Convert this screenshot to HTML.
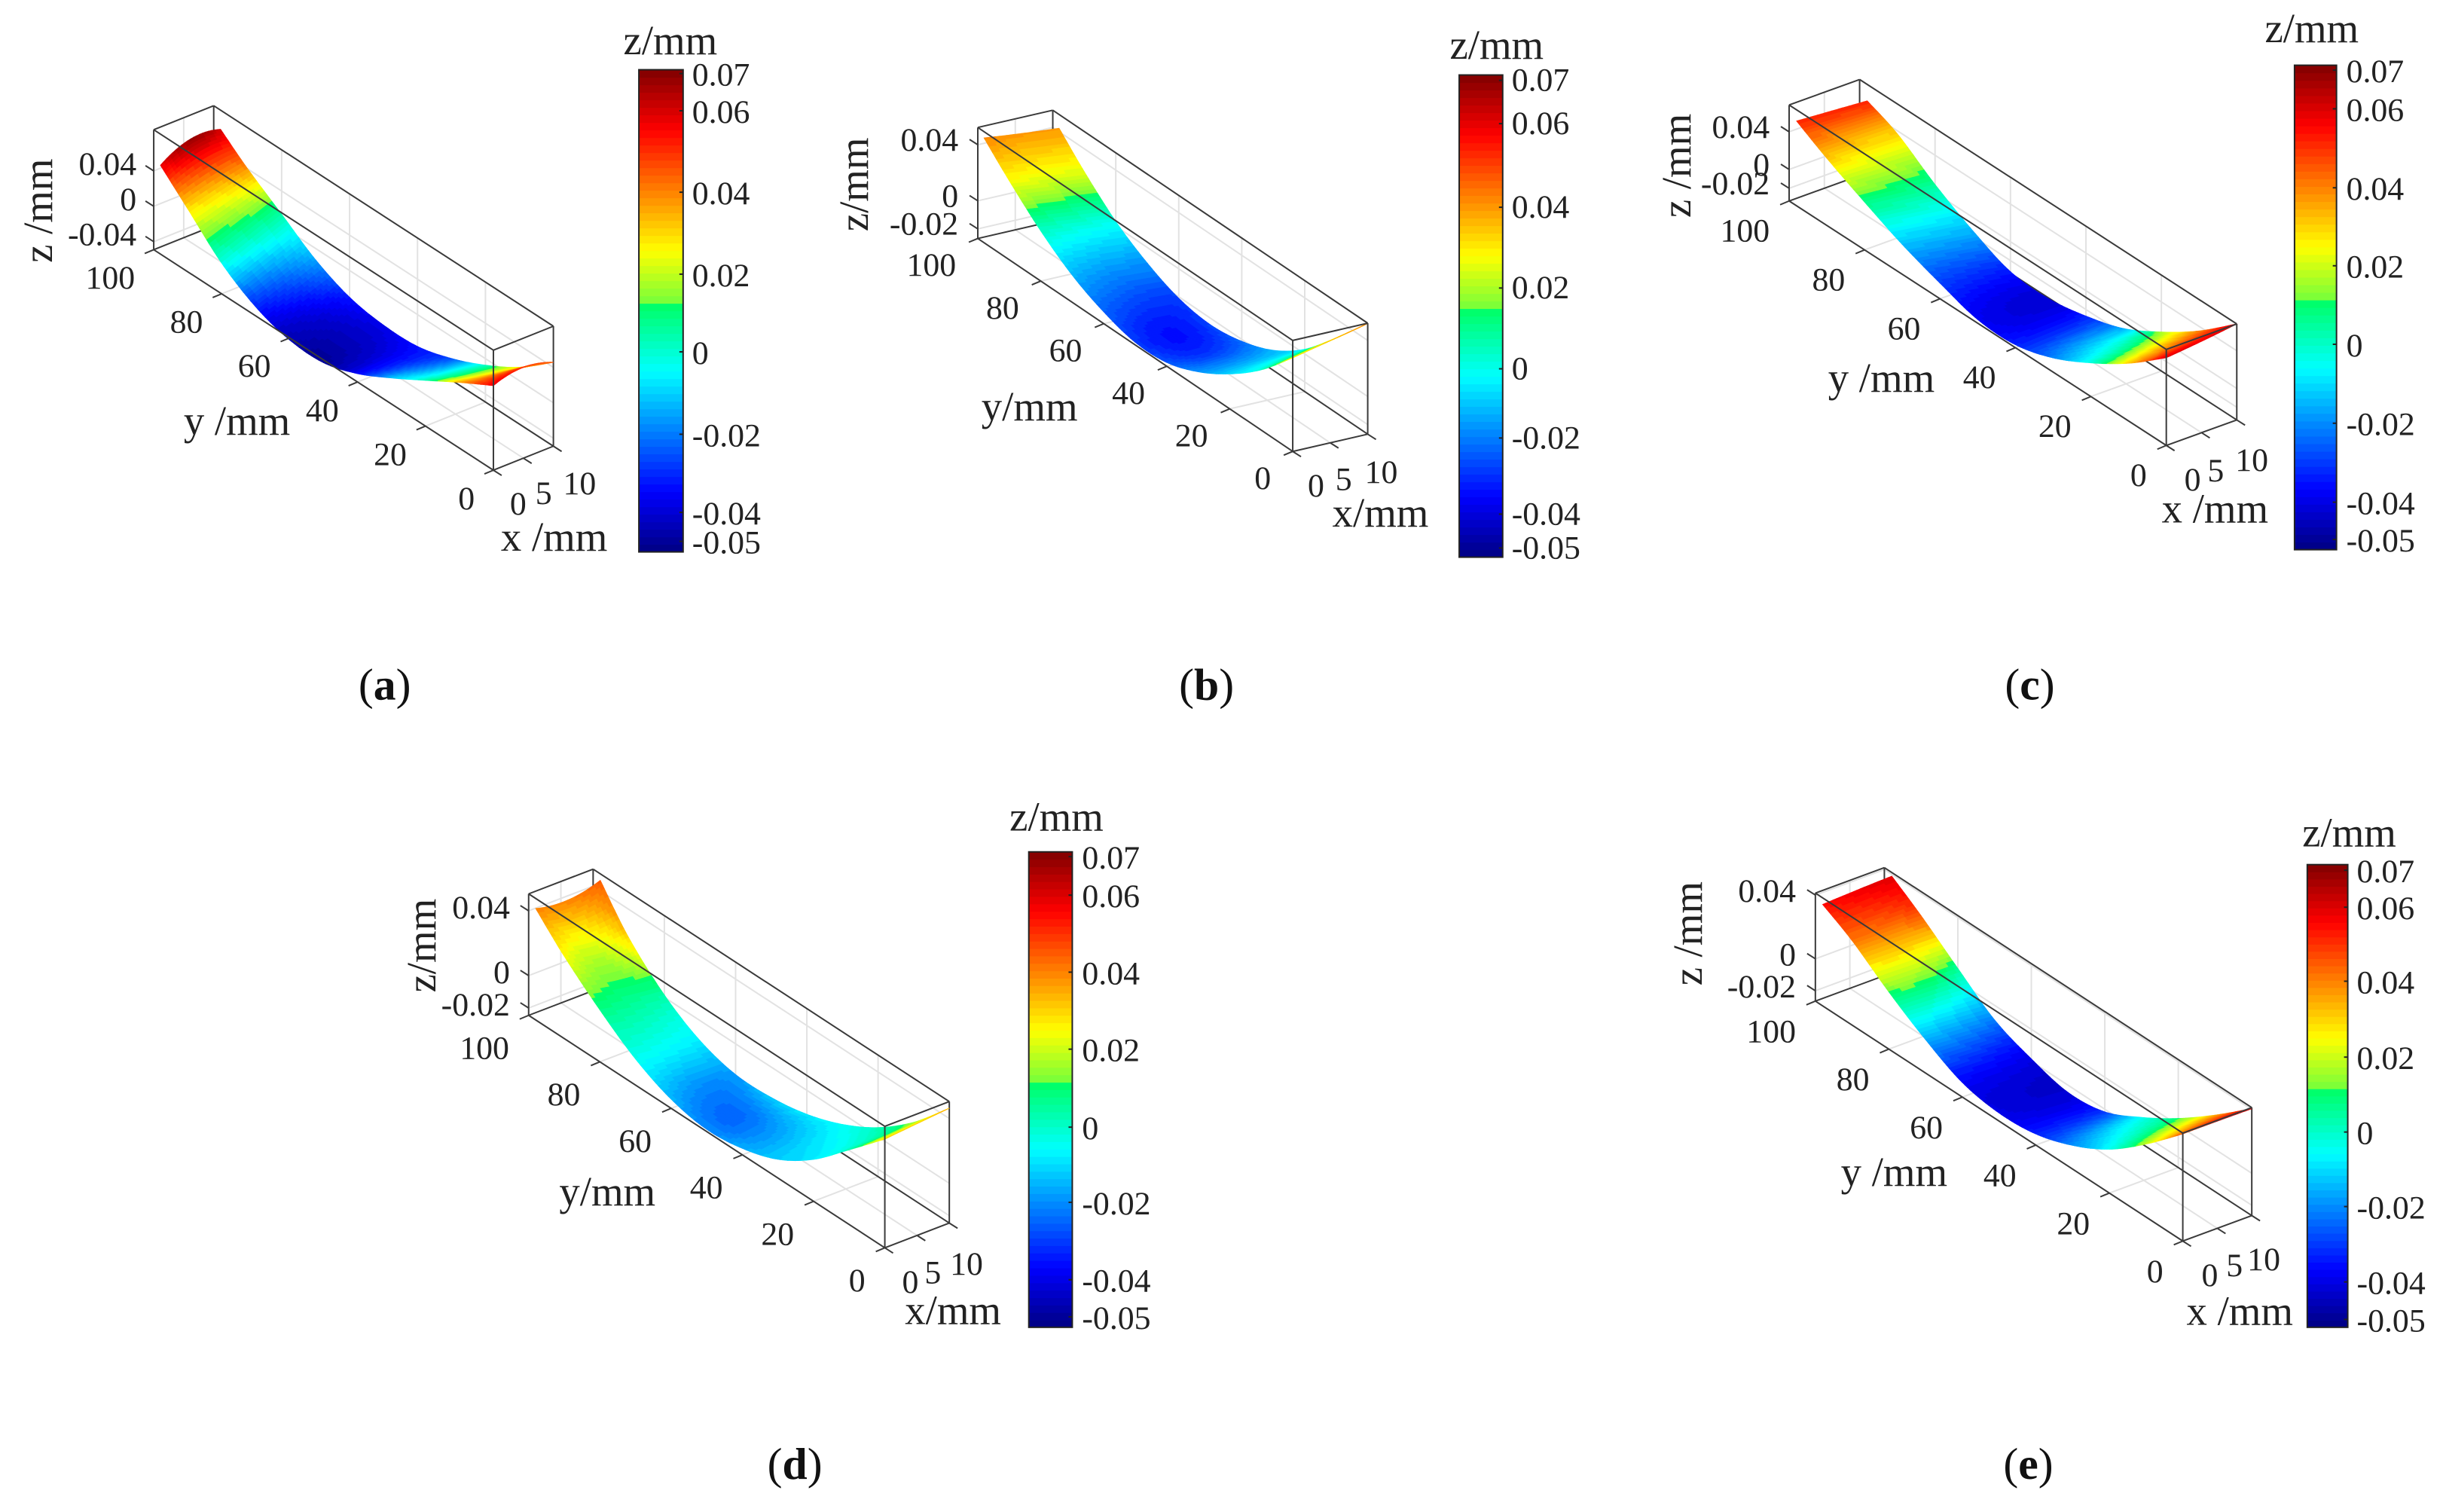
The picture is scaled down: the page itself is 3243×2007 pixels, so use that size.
<!DOCTYPE html>
<html lang="en">
<head>
<meta charset="utf-8">
<title>Surface deformation maps (a)–(e)</title>
<style>
html,body{margin:0;padding:0;background:#fff;}
svg{display:block;}
text{font-family:"Liberation Serif",serif;fill:#222;}
.tick-label{font-size:44px;}
.axis-title{font-size:55px;text-anchor:middle;}
.panel-label{font-size:60px;text-anchor:middle;fill:#111;}
.panel-label tspan{font-weight:bold;}
</style>
</head>
<body>
<svg id="figure" xmlns="http://www.w3.org/2000/svg" width="3243" height="2007" viewBox="0 0 3258 2016.3">
  <rect width="3258" height="2017" fill="#fff"/>

  <g id="panel-a"></g>
  <g id="panel-b"></g>
  <g id="panel-c"></g>
  <g id="panel-d"></g>
  <g id="panel-e"></g>

  <text class="axis-title" transform="translate(53,281) rotate(-90)" dy=".3em">z /mm</text>
  <text class="axis-title" x="316" y="563" dy=".3em">y /mm</text>
  <text class="axis-title" x="739" y="718" dy=".3em">x /mm</text>
  <text class="axis-title" x="894" y="56" dy=".3em">z/mm</text>
  <text class="panel-label" x="513" y="915" dy=".3em">(<tspan>a</tspan>)</text>

  <text class="axis-title" transform="translate(1141,246) rotate(-90)" dy=".3em">z/mm</text>
  <text class="axis-title" x="1373" y="544" dy=".3em">y/mm</text>
  <text class="axis-title" x="1841" y="686" dy=".3em">x/mm</text>
  <text class="axis-title" x="1996" y="62" dy=".3em">z/mm</text>
  <text class="panel-label" x="1609" y="915" dy=".3em">(<tspan>b</tspan>)</text>

  <text class="axis-title" transform="translate(2238,221) rotate(-90)" dy=".3em">z /mm</text>
  <text class="axis-title" x="2509" y="506" dy=".3em">y /mm</text>
  <text class="axis-title" x="2954" y="680" dy=".3em">x /mm</text>
  <text class="axis-title" x="3083" y="40" dy=".3em">z/mm</text>
  <text class="panel-label" x="2707" y="915" dy=".3em">(<tspan>c</tspan>)</text>

  <text class="axis-title" transform="translate(564,1261) rotate(-90)" dy=".3em">z/mm</text>
  <text class="axis-title" x="810" y="1591" dy=".3em">y/mm</text>
  <text class="axis-title" x="1271" y="1749" dy=".3em">x/mm</text>
  <text class="axis-title" x="1409" y="1091" dy=".3em">z/mm</text>
  <text class="panel-label" x="1060" y="1954" dy=".3em">(<tspan>d</tspan>)</text>

  <text class="axis-title" transform="translate(2253,1245) rotate(-90)" dy=".3em">z /mm</text>
  <text class="axis-title" x="2526" y="1565" dy=".3em">y /mm</text>
  <text class="axis-title" x="2987" y="1750" dy=".3em">x /mm</text>
  <text class="axis-title" x="3133" y="1112" dy=".3em">z/mm</text>
  <text class="panel-label" x="2705" y="1954" dy=".3em">(<tspan>e</tspan>)</text>
</svg>

<script>
// ---------- shared axis data ----------
const surfaceStationsY = [98, 90, 80, 70, 60, 50, 40, 30, 20, 10, 0];
const xTickValues = [0, 5, 10];
const xTickLabels = ['0', '5', '10'];
const yTickValues = [0, 20, 40, 60, 80, 100];
const yTickLabels = ['0', '20', '40', '60', '80', '100'];
const colorbarTickValues = [0.07, 0.06, 0.04, 0.02, 0, -0.02, -0.04, -0.05];
const colorbarTickLabels = ['0.07', '0.06', '0.04', '0.02', '0', '-0.02', '-0.04', '-0.05'];
const zTickValuesA = [0.04, 0, -0.04];
const zTickLabelsA = ['0.04', '0', '-0.04'];
const zTickValuesRest = [0.04, 0, -0.02];
const zTickLabelsRest = ['0.04', '0', '-0.02'];

// ---------- panel (a): surface height at x = 0, 5, 10 and displayed colour value ----------
const heightNearA = [0.0513, 0.0222, -0.0143, -0.0387, -0.0513, -0.0522, -0.0396, -0.0196, 0.0026, 0.0252, 0.0465];
const heightMidA = [0.0674, 0.0317, -0.0004, -0.0261, -0.0413, -0.0448, -0.0378, -0.0222, -0.0022, 0.0204, 0.0535];
const heightFarA = [0.0648, 0.0400, 0.0135, -0.0130, -0.0304, -0.0370, -0.0361, -0.0248, -0.0074, 0.0152, 0.0457];
const colourNearA = [0.058, 0.030, -0.002, -0.030, -0.045, -0.050, -0.035, -0.012, 0.003, 0.035, 0.057];
const colourMidA = [0.068, 0.033, 0.002, -0.024, -0.040, -0.044, -0.036, -0.020, 0.000, 0.030, 0.050];
const colourFarA = [0.060, 0.038, 0.005, -0.015, -0.032, -0.037, -0.033, -0.025, 0.002, 0.028, 0.045];

// ---------- panel (b) ----------
const heightNearB = [0.0479, 0.0296, 0.0090, -0.0074, -0.0184, -0.0249, -0.0241, -0.0156, -0.0019, 0.0162, 0.0400];
const heightMidB = [0.0449, 0.0266, 0.0060, -0.0093, -0.0197, -0.0247, -0.0227, -0.0140, 0.0005, 0.0214, 0.0460];
const heightFarB = [0.0425, 0.0236, 0.0033, -0.0112, -0.0211, -0.0247, -0.0214, -0.0126, 0.0033, 0.0266, 0.0521];
const colourNearB = [0.042, 0.028, 0.005, -0.012, -0.023, -0.028, -0.025, -0.017, -0.008, 0.003, 0.030];
const colourMidB = [0.040, 0.026, 0.002, -0.016, -0.028, -0.034, -0.030, -0.018, -0.005, 0.012, 0.035];
const colourFarB = [0.040, 0.025, 0.000, -0.017, -0.028, -0.027, -0.022, -0.012, -0.002, 0.030, 0.042];

// ---------- panel (c) ----------
const heightNearC = [0.0567, 0.0380, 0.0175, -0.0016, -0.0167, -0.0295, -0.0303, -0.0183, 0.0024, 0.0279, 0.0598];
const heightMidC = [0.0539, 0.0376, 0.0131, -0.0080, -0.0243, -0.0319, -0.0287, -0.0163, 0.0052, 0.0315, 0.0637];
const heightFarC = [0.0510, 0.0367, 0.0088, -0.0143, -0.0319, -0.0343, -0.0271, -0.0143, 0.0080, 0.0351, 0.0686];
const colourNearC = [0.052, 0.032, 0.008, -0.013, -0.029, -0.038, -0.033, -0.021, -0.002, 0.030, 0.060];
const colourMidC = [0.052, 0.030, 0.007, -0.014, -0.032, -0.041, -0.034, -0.015, 0.005, 0.035, 0.058];
const colourFarC = [0.052, 0.030, 0.005, -0.015, -0.034, -0.042, -0.033, -0.015, 0.015, 0.040, 0.060];

// ---------- panel (d) ----------
const heightNearD = [0.0443, 0.0264, 0.0076, -0.0083, -0.0188, -0.0231, -0.0205, -0.0129, 0.0014, 0.0217, 0.0426];
const heightMidD = [0.0419, 0.0224, 0.0040, -0.0105, -0.0190, -0.0210, -0.0176, -0.0098, 0.0036, 0.0224, 0.0445];
const heightFarD = [0.0464, 0.0224, 0.0014, -0.0124, -0.0190, -0.0188, -0.0148, -0.0067, 0.0057, 0.0233, 0.0464];
const colourNearD = [0.040, 0.025, 0.008, -0.004, -0.015, -0.020, -0.016, -0.012, -0.008, 0.003, 0.030];
const colourMidD = [0.040, 0.020, 0.006, -0.006, -0.020, -0.024, -0.018, -0.010, -0.004, 0.006, 0.030];
const colourFarD = [0.045, 0.030, 0.004, -0.008, -0.018, -0.012, -0.008, -0.005, 0.002, 0.015, 0.035];

// ---------- panel (e) ----------
const heightNearE = [0.0371, 0.0265, 0.0094, -0.0055, -0.0173, -0.0214, -0.0195, -0.0116, 0.0010, 0.0193, 0.0407];
const heightMidE = [0.0381, 0.0263, 0.0087, -0.0072, -0.0178, -0.0229, -0.0205, -0.0106, 0.0027, 0.0205, 0.0407];
const heightFarE = [0.0388, 0.0260, 0.0080, -0.0092, -0.0186, -0.0246, -0.0217, -0.0101, 0.0043, 0.0214, 0.0405];
const colourNearE = [0.055, 0.042, 0.012, -0.015, -0.037, -0.040, -0.033, -0.020, -0.005, 0.018, 0.045];
const colourMidE = [0.058, 0.042, 0.012, -0.018, -0.038, -0.042, -0.032, -0.012, 0.005, 0.030, 0.055];
const colourFarE = [0.060, 0.045, 0.006, -0.022, -0.040, -0.042, -0.030, -0.005, 0.010, 0.035, 0.060];

// ---------- colourbar axis calibration: reference values for the per-panel scale ----------
const barCalibrationValues = [0.07, 0.06, 0.04, 0.02, 0, -0.02, -0.04, -0.05];

// ---------- panel layout: projected box geometry and label placement ----------
const panels = [
  {id:'a', o:[658,627], ex:[80,-32], ey:[-453,-294], ez:-160, zLow:-0.0491, zHigh:0.0865,
   zTicks:zTickValuesA, zLabels:zTickLabelsA,
   near:heightNearA, mid:heightMidA, far:heightFarA, cNear:colourNearA, cMid:colourMidA, cFar:colourFarA,
   bar:{l:852, r:911, t:93, b:736, labelX:923, labelDy:1, cal:[0.008,0.085,0.254,0.424,0.585,0.756,0.918,0.978]},
   yLabelOff:[-25,37], zLabelOff:[-23,-10], xLabelOff:[[33,44],[27,46],[35,49]]},
  {id:'b', o:[1724,602], ex:[100,-23], ey:[-420,-284], ez:-148, zLow:-0.02685, zHigh:0.05233,
   zTicks:zTickValuesRest, zLabels:zTickLabelsRest,
   near:heightNearB, mid:heightMidB, far:heightFarB, cNear:colourNearB, cMid:colourMidB, cFar:colourFarB,
   bar:{l:1946, r:2004, t:100, b:743, labelX:2016, labelDy:-1, cal:[0.011,0.101,0.2743,0.4418,0.6093,0.7528,0.9107,0.981]},
   yLabelOff:[-29,35], zLabelOff:[-26,-7], xLabelOff:[[31,45],[18,48],[18,50]]},
  {id:'c', o:[2889,594], ex:[94,-34], ey:[-503,-326], ez:-128, zLow:-0.03347, zHigh:0.06857,
   zTicks:zTickValuesRest, zLabels:zTickLabelsRest,
   near:heightNearC, mid:heightMidC, far:heightFarC, cNear:colourNearC, cMid:colourMidC, cFar:colourFarC,
   bar:{l:3060, r:3116, t:87, b:733, labelX:3129, labelDy:1, cal:[0.01,0.09,0.253,0.414,0.576,0.739,0.902,0.979]},
   yLabelOff:[-26,39], zLabelOff:[-26,-7], xLabelOff:[[35,45],[19,50],[20,53]]},
  {id:'d', o:[1180,1664], ex:[86,-33], ey:[-475,-310], ez:-162, zLow:-0.02452, zHigh:0.05048,
   zTicks:zTickValuesRest, zLabels:zTickLabelsRest,
   near:heightNearD, mid:heightMidD, far:heightFarD, cNear:colourNearD, cMid:colourMidD, cFar:colourFarD,
   bar:{l:1372, r:1430, t:1136, b:1770, labelX:1443, labelDy:1, cal:[0.01,0.091,0.253,0.415,0.579,0.737,0.9,0.978]},
   yLabelOff:[-26,43], zLabelOff:[-25,-5], xLabelOff:[[34,45],[21,49],[23,54]]},
  {id:'e', o:[2911,1655], ex:[92,-34], ey:[-490,-320], ez:-144, zLow:-0.02651, zHigh:0.0412,
   zTicks:zTickValuesRest, zLabels:zTickLabelsRest,
   near:heightNearE, mid:heightMidE, far:heightFarE, cNear:colourNearE, cMid:colourMidE, cFar:colourFarE,
   bar:{l:3077, r:3131, t:1153, b:1770, labelX:3143, labelDy:1, cal:[0.012,0.092,0.252,0.416,0.578,0.739,0.902,0.983]},
   yLabelOff:[-26,40], zLabelOff:[-26,-6], xLabelOff:[[36,45],[23,49],[16,58]]}
];

const SVGNS = 'http://www.w3.org/2000/svg';
const EDGE = '#3a3a3a';
const GRID = '#e2e2e2';
const COLOUR_LEVELS = 64;
const SUB_X = 20;
const SUB_Y = 14;

// ---------- scales ----------
function project(p, x, y, z) {
  const fx = x / 10, fy = y / 100, fz = (z - p.zLow) / (p.zHigh - p.zLow);
  return [p.o[0] + fx * p.ex[0] + fy * p.ey[0], p.o[1] + fx * p.ex[1] + fy * p.ey[1] + fz * p.ez];
}
// colourbar axis: fraction of the bar measured from its top edge
function barFraction(p, v) {
  const vals = barCalibrationValues, cal = p.bar.cal;
  if (v >= vals[0]) return Math.max(0, cal[0] - (v - vals[0]) * 8);
  for (let i = 0; i < vals.length - 1; i++) {
    if (v >= vals[i + 1]) {
      return cal[i] + (vals[i] - v) / (vals[i] - vals[i + 1]) * (cal[i + 1] - cal[i]);
    }
  }
  return Math.min(1, cal[cal.length - 1] + (vals[vals.length - 1] - v) * 6);
}
function jet(t) {
  const s = [[0,0,0,130],[0.125,0,0,255],[0.375,0,255,255],[0.515,0,255,100]];
  const u = [[0.515,115,255,60],[0.625,255,255,0],[0.875,255,0,0],[1,128,0,0]];
  const stops = t < 0.515 ? s : u;
  for (let i = 0; i < stops.length - 1; i++) {
    const a = stops[i], b = stops[i + 1];
    if (t <= b[0]) {
      const f = (t - a[0]) / (b[0] - a[0]);
      return 'rgb(' + Math.round(a[1] + f * (b[1] - a[1])) + ',' + Math.round(a[2] + f * (b[2] - a[2])) + ',' + Math.round(a[3] + f * (b[3] - a[3])) + ')';
    }
  }
  return 'rgb(128,0,0)';
}
function levelColour(t) {
  const c = Math.max(0, Math.min(0.9999, t));
  return jet((Math.floor(c * COLOUR_LEVELS) + 0.5) / COLOUR_LEVELS);
}
function valueColour(p, v) {
  return levelColour(1 - barFraction(p, v));
}

// ---------- interpolation between the read stations (rendering only) ----------
function catmull(arr, u) {
  const i = Math.min(arr.length - 2, Math.floor(u)), f = u - i;
  const p0 = arr[Math.max(0, i - 1)], p1 = arr[i], p2 = arr[i + 1], p3 = arr[Math.min(arr.length - 1, i + 2)];
  return 0.5 * (2 * p1 + (p2 - p0) * f + (2 * p0 - 5 * p1 + 4 * p2 - p3) * f * f + (3 * p1 - p0 - 3 * p2 + p3) * f * f * f);
}
function across(a, b, c, f) {
  return a * (1 - f) * (1 - 2 * f) + b * 4 * f * (1 - f) + c * f * (2 * f - 1);
}

// ---------- element helpers ----------
function makeLine(parent, a, b, stroke, width) {
  const el = document.createElementNS(SVGNS, 'line');
  el.setAttribute('x1', a[0].toFixed(1));
  el.setAttribute('y1', a[1].toFixed(1));
  el.setAttribute('x2', b[0].toFixed(1));
  el.setAttribute('y2', b[1].toFixed(1));
  el.setAttribute('stroke', stroke);
  el.setAttribute('stroke-width', width);
  parent.appendChild(el);
  return el;
}
function makeText(parent, x, y, str, anchor) {
  const el = document.createElementNS(SVGNS, 'text');
  el.setAttribute('class', 'tick-label');
  el.setAttribute('x', x.toFixed(1));
  el.setAttribute('y', y.toFixed(1));
  el.setAttribute('dy', '.34em');
  el.setAttribute('text-anchor', anchor);
  el.textContent = str;
  parent.appendChild(el);
  return el;
}

// ---------- drawing ----------
function drawGrid(g, p) {
  const gridGroup = document.createElementNS(SVGNS, 'g');
  
  
  g.appendChild(gridGroup);
  yTickValues.slice(1, -1).forEach(function (y) {
    const wall = makeLine(gridGroup, project(p, 10, y, p.zLow), project(p, 10, y, p.zHigh), GRID, 2);
    
    
    const floor = makeLine(gridGroup, project(p, 0, y, p.zLow), project(p, 10, y, p.zLow), GRID, 2);
    
    
  });
  p.zTicks.forEach(function (z) {
    const along = makeLine(gridGroup, project(p, 10, 100, z), project(p, 10, 0, z), GRID, 2);
    
    
    const side = makeLine(gridGroup, project(p, 0, 100, z), project(p, 10, 100, z), GRID, 2);
    
    
  });
  const midFloor = makeLine(gridGroup, project(p, 5, 100, p.zLow), project(p, 5, 0, p.zLow), GRID, 2);
  
  
  const midSide = makeLine(gridGroup, project(p, 5, 100, p.zLow), project(p, 5, 100, p.zHigh), GRID, 2);
  
  
}

function drawBackBox(g, p) {
  const z0 = p.zLow, z1 = p.zHigh;
  const segs = [
    [project(p, 0, 100, z0), project(p, 10, 100, z0)],
    [project(p, 10, 100, z0), project(p, 10, 0, z0)],
    [project(p, 10, 100, z0), project(p, 10, 100, z1)],
    [project(p, 10, 100, z1), project(p, 10, 0, z1)],
    [project(p, 0, 100, z1), project(p, 10, 100, z1)],
    [project(p, 10, 0, z0), project(p, 10, 0, z1)]
  ];
  segs.forEach(function (s) {
    const edge = makeLine(g, s[0], s[1], EDGE, 2);
    
    
  });
}

function drawFrontBox(g, p) {
  const z0 = p.zLow, z1 = p.zHigh;
  const segs = [
    [project(p, 0, 100, z1), project(p, 0, 0, z1)],
    [project(p, 0, 0, z1), project(p, 10, 0, z1)],
    [project(p, 0, 100, z0), project(p, 0, 100, z1)],
    [project(p, 0, 0, z0), project(p, 0, 0, z1)],
    [project(p, 0, 100, z0), project(p, 0, 0, z0)],
    [project(p, 0, 0, z0), project(p, 10, 0, z0)]
  ];
  segs.forEach(function (s) {
    const edge = makeLine(g, s[0], s[1], EDGE, 2);
    
    
  });
}

function drawSurface(g, p) {
  const surface = document.createElementNS(SVGNS, 'g');
  
  
  g.appendChild(surface);
  const rows = (surfaceStationsY.length - 1) * SUB_Y;
  const nodes = [];
  for (let j = 0; j <= rows; j++) {
    const u = j / SUB_Y;
    const y = catmull(surfaceStationsY, u);
    const hn = catmull(p.near, u), hm = catmull(p.mid, u), hf = catmull(p.far, u);
    const cn = catmull(p.cNear, u), cm = catmull(p.cMid, u), cf = catmull(p.cFar, u);
    const row = [];
    for (let i = 0; i <= SUB_X; i++) {
      const f = i / SUB_X;
      row.push({pt: project(p, f * 10, y, across(hn, hm, hf, f)), v: across(cn, cm, cf, f)});
    }
    nodes.push(row);
  }
  for (let j = 0; j < rows; j++) {
    for (let i = SUB_X - 1; i >= 0; i--) {
      const q = [nodes[j][i], nodes[j][i + 1], nodes[j + 1][i + 1], nodes[j + 1][i]];
      const v = (q[0].v + q[1].v + q[2].v + q[3].v) / 4;
      const col = valueColour(p, v);
      const cell = document.createElementNS(SVGNS, 'polygon');
      cell.setAttribute('points', q.map(function (n) { return n.pt[0].toFixed(1) + ',' + n.pt[1].toFixed(1); }).join(' '));
      cell.setAttribute('fill', col);
      cell.setAttribute('stroke', col);
      cell.setAttribute('stroke-width', '1');
      
      
      surface.appendChild(cell);
    }
  }
}

function drawTicks(g, p) {
  const ux = [-12, 5], uy = [11, 7], uz = [-11, -7];
  yTickValues.forEach(function (y, k) {
    const a = project(p, 0, y, p.zLow);
    const tick = makeLine(g, a, [a[0] + ux[0], a[1] + ux[1]], EDGE, 2);
    
    
    const label = makeText(g, a[0] + p.yLabelOff[0], a[1] + p.yLabelOff[1], yTickLabels[k], 'end');
    
    
  });
  xTickValues.forEach(function (x, k) {
    const a = project(p, x, 0, p.zLow);
    const tick = makeLine(g, a, [a[0] + uy[0], a[1] + uy[1]], EDGE, 2);
    
    
    const label = makeText(g, a[0] + p.xLabelOff[k][0], a[1] + p.xLabelOff[k][1], xTickLabels[k], 'middle');
    
    
  });
  p.zTicks.forEach(function (z, k) {
    const a = project(p, 0, 100, z);
    const tick = makeLine(g, a, [a[0] + uz[0], a[1] + uz[1]], EDGE, 2);
    
    
    const label = makeText(g, a[0] + p.zLabelOff[0], a[1] + p.zLabelOff[1], p.zLabels[k], 'end');
    
    
  });
}

function drawColorbar(g, p) {
  const b = p.bar, h = b.b - b.t;
  const bar = document.createElementNS(SVGNS, 'g');
  
  
  g.appendChild(bar);
  for (let i = 0; i < COLOUR_LEVELS; i++) {
    const t0 = i / COLOUR_LEVELS;
    const band = document.createElementNS(SVGNS, 'rect');
    band.setAttribute('x', b.l);
    band.setAttribute('y', (b.b - (t0 + 1 / COLOUR_LEVELS) * h).toFixed(1));
    band.setAttribute('width', b.r - b.l);
    band.setAttribute('height', (h / COLOUR_LEVELS + 0.6).toFixed(1));
    band.setAttribute('fill', levelColour(t0 + 0.5 / COLOUR_LEVELS));
    
    
    bar.appendChild(band);
  }
  const frame = document.createElementNS(SVGNS, 'rect');
  frame.setAttribute('x', b.l);
  frame.setAttribute('y', b.t);
  frame.setAttribute('width', b.r - b.l);
  frame.setAttribute('height', h);
  frame.setAttribute('fill', 'none');
  frame.setAttribute('stroke', '#222');
  frame.setAttribute('stroke-width', '2');
  
  
  bar.appendChild(frame);
  colorbarTickValues.forEach(function (v, k) {
    const y = b.t + barFraction(p, v) * h;
    const tick = makeLine(bar, [b.r - 5, y], [b.r, y], '#222', 2);
    
    
    const label = makeText(bar, b.labelX, y + b.labelDy, colorbarTickLabels[k], 'start');
    
    
  });
}

panels.forEach(function (p) {
  const g = document.getElementById('panel-' + p.id);
  drawGrid(g, p);
  drawBackBox(g, p);
  drawSurface(g, p);
  drawFrontBox(g, p);
  drawTicks(g, p);
  drawColorbar(g, p);
});
</script>
</body>
</html>
